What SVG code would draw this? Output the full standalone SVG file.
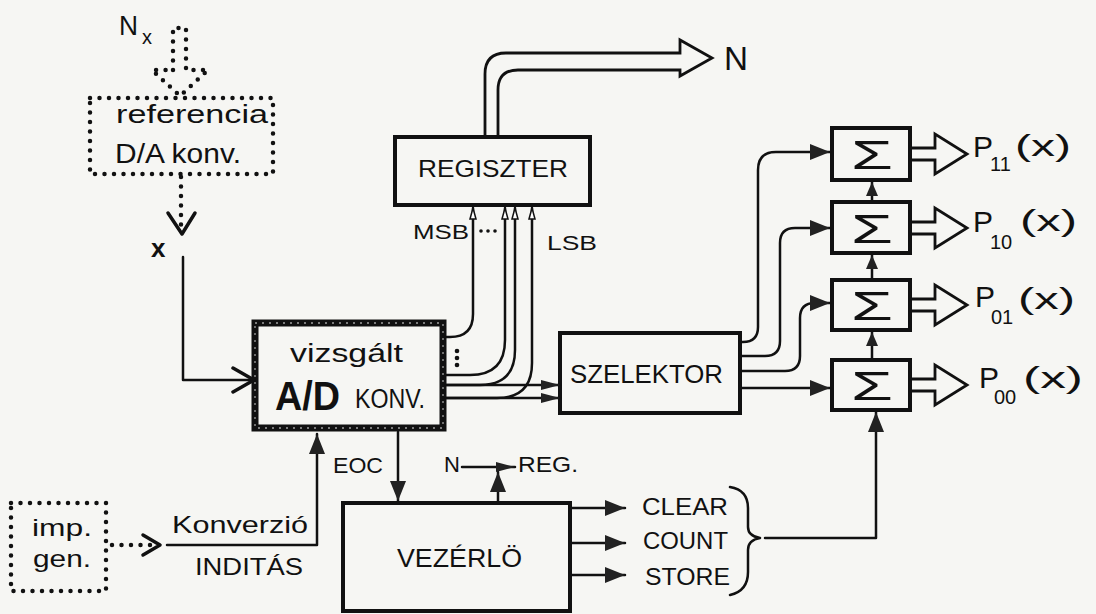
<svg xmlns="http://www.w3.org/2000/svg" width="1096" height="614" viewBox="0 0 1096 614">
<style>
text{font-family:"Liberation Sans","DejaVu Sans",sans-serif;fill:#111;}
.box{fill:none;stroke:#111;stroke-width:4;}
.ln{fill:none;stroke:#111;stroke-width:2.5;stroke-linecap:round;stroke-linejoin:round;}
.dot{fill:none;stroke:#111;stroke-width:4.5;stroke-linecap:round;stroke-dasharray:0 9.5;}
.bus{fill:none;stroke:#111;stroke-width:2.8;stroke-linejoin:miter;}
.open{fill:none;stroke:#111;stroke-width:3.5;stroke-linecap:round;stroke-linejoin:round;}
</style>
<defs>
<marker id="tri" markerUnits="userSpaceOnUse" markerWidth="22" markerHeight="18" refX="20" refY="9" orient="auto" viewBox="0 0 22 18">
<path d="M0,1 L20,9 L0,17 Z" fill="#222"/>
</marker>
<marker id="triS" markerUnits="userSpaceOnUse" markerWidth="20" markerHeight="12" refX="19" refY="6" orient="auto" viewBox="0 0 20 12">
<path d="M0,1 L19,6 L0,11 Z" fill="#222"/>
</marker>
<marker id="triU" markerUnits="userSpaceOnUse" markerWidth="16" markerHeight="14" refX="14" refY="7" orient="auto" viewBox="0 0 16 14">
<path d="M0,1 L14,7 L0,13 Z" fill="#222"/>
</marker>
<marker id="tiny" markerUnits="userSpaceOnUse" markerWidth="14" markerHeight="8" refX="12" refY="4" orient="auto" viewBox="0 0 14 8">
<path d="M1,1 L12,4 L1,7 Z" fill="#fff" stroke="#111" stroke-width="1.5"/>
</marker>
</defs>
<rect width="1096" height="614" fill="#f6f6f3"/>

<g id="nx-input">
<text x="119" y="35" font-size="28" textLength="19" lengthAdjust="spacingAndGlyphs">N</text>
<text x="142" y="44" font-size="20">x</text>
<path class="dot" d="M173,70 V28 H186 V70 H208 L180,96 L152,70 Z"/>
</g>

<g id="referencia">
<rect class="dot" x="90" y="98" width="183" height="76"/>
<text x="116" y="123" font-size="25" textLength="152" lengthAdjust="spacingAndGlyphs">referencia</text>
<text x="115" y="163" font-size="27" textLength="126" lengthAdjust="spacingAndGlyphs">D/A konv.</text>
</g>

<g id="x-label">
<text x="151" y="257" font-size="26" font-weight="bold">x</text>
</g>

<g id="ad-konv">
<rect x="255" y="323" width="188" height="105" fill="none" stroke="#111" stroke-width="7"/>
<rect x="255" y="323" width="188" height="105" fill="none" stroke="#fff" stroke-width="1.3" stroke-dasharray="2 5" opacity="0.6"/>
<text x="290" y="362" font-size="26" textLength="113" lengthAdjust="spacingAndGlyphs">vizsgált</text>
<text x="275" y="410" font-size="40" font-weight="bold" textLength="65" lengthAdjust="spacingAndGlyphs">A/D</text>
<text x="355" y="408" font-size="27" textLength="70" lengthAdjust="spacingAndGlyphs">KONV.</text>
<circle cx="457" cy="351" r="2.3" fill="#111"/>
<circle cx="457" cy="358" r="2.3" fill="#111"/>
<circle cx="457" cy="365" r="2.3" fill="#111"/>
</g>

<g id="regiszter">
<rect class="box" x="395" y="137" width="195" height="68"/>
<text x="418" y="177" font-size="24" textLength="150" lengthAdjust="spacingAndGlyphs">REGISZTER</text>
<text x="413" y="239" font-size="21" textLength="56" lengthAdjust="spacingAndGlyphs">MSB</text>
<text x="547" y="250" font-size="21" textLength="50" lengthAdjust="spacingAndGlyphs">LSB</text>
<circle cx="481" cy="231" r="1.8" fill="#111"/>
<circle cx="488" cy="231" r="1.8" fill="#111"/>
<circle cx="495" cy="231" r="1.8" fill="#111"/>
</g>

<g id="n-out">
<text x="724" y="70" font-size="34" textLength="24" lengthAdjust="spacingAndGlyphs">N</text>
</g>

<g id="szelektor">
<rect class="box" x="560" y="333" width="180" height="80"/>
<text x="570" y="383" font-size="25" textLength="153" lengthAdjust="spacingAndGlyphs">SZELEKTOR</text>
</g>

<g id="sum11">
<rect class="box" x="832" y="128" width="78" height="52"/>
<text x="851" y="169" font-size="40" textLength="42" lengthAdjust="spacingAndGlyphs">Σ</text>
<text x="973" y="157" font-size="30">P</text>
<text x="990" y="171" font-size="20">11</text>
<text x="1015" y="156" font-size="30" textLength="56" lengthAdjust="spacingAndGlyphs">(x)</text>
</g>
<g id="sum10">
<rect class="box" x="832" y="202" width="78" height="51"/>
<text x="851" y="243" font-size="40" textLength="42" lengthAdjust="spacingAndGlyphs">Σ</text>
<text x="973" y="232" font-size="30">P</text>
<text x="990" y="249" font-size="20">10</text>
<text x="1020" y="231" font-size="30" textLength="57" lengthAdjust="spacingAndGlyphs">(x)</text>
</g>
<g id="sum01">
<rect class="box" x="832" y="280" width="78" height="50"/>
<text x="851" y="320" font-size="40" textLength="42" lengthAdjust="spacingAndGlyphs">Σ</text>
<text x="975" y="307" font-size="30">P</text>
<text x="991" y="324" font-size="20">01</text>
<text x="1018" y="309" font-size="30" textLength="57" lengthAdjust="spacingAndGlyphs">(x)</text>
</g>
<g id="sum00">
<rect class="box" x="832" y="360" width="78" height="50"/>
<text x="851" y="400" font-size="40" textLength="42" lengthAdjust="spacingAndGlyphs">Σ</text>
<text x="979" y="388" font-size="30">P</text>
<text x="994" y="404" font-size="20">00</text>
<text x="1023" y="388" font-size="30" textLength="60" lengthAdjust="spacingAndGlyphs">(x)</text>
</g>

<g id="impgen">
<rect class="dot" x="11" y="503" width="95" height="88"/>
<text x="32" y="536" font-size="24" textLength="60" lengthAdjust="spacingAndGlyphs">imp.</text>
<text x="33" y="567" font-size="24" textLength="58" lengthAdjust="spacingAndGlyphs">gen.</text>
</g>

<g id="vezerlo">
<rect class="box" x="343" y="503" width="227" height="108"/>
<text x="397" y="567" font-size="26" textLength="125" lengthAdjust="spacingAndGlyphs">VEZÉRLÖ</text>
</g>

<g id="labels">
<text x="172" y="533" font-size="24" textLength="136" lengthAdjust="spacingAndGlyphs">Konverzió</text>
<text x="195" y="575" font-size="24" textLength="108" lengthAdjust="spacingAndGlyphs">INDITÁS</text>
<text x="333" y="473" font-size="22" textLength="50" lengthAdjust="spacingAndGlyphs">EOC</text>
<text x="444" y="472" font-size="22">N</text>
<text x="518" y="472" font-size="22" textLength="60" lengthAdjust="spacingAndGlyphs">REG.</text>
<text x="642" y="515" font-size="23" textLength="86" lengthAdjust="spacingAndGlyphs">CLEAR</text>
<text x="643" y="549" font-size="23" textLength="85" lengthAdjust="spacingAndGlyphs">COUNT</text>
<text x="645" y="585" font-size="23" textLength="85" lengthAdjust="spacingAndGlyphs">STORE</text>
</g>

<g id="connectors">
<path class="dot" d="M181,177 V228"/>
<path class="open" d="M168,213 L182,234 L195,213"/>
<path class="ln" d="M183,257 V380 H253"/>
<path class="open" d="M233,368 L254,380 L233,392"/>
<path class="bus" d="M485,137 V74 Q485,53 506,53 H680 V40 L712,58 L680,76 V70 H518 Q498,70 498,90 V137"/>
<path class="ln" d="M446,337 H450 Q473,337 473,314 V208" marker-end="url(#tiny)"/>
<path class="ln" d="M446,375 H470 Q505,375 505,340 V208" marker-end="url(#tiny)"/>
<path class="ln" d="M446,385 H480 Q515,385 515,350 V208" marker-end="url(#tiny)"/>
<path class="ln" d="M446,398 H497 Q532,398 532,363 V208" marker-end="url(#tiny)"/>
<path class="ln" d="M446,385 H560" marker-end="url(#triS)"/>
<path class="ln" d="M446,398 H560" marker-end="url(#triS)"/>
<path class="ln" d="M742,342 H743 Q758,342 758,327 V170 Q758,152 776,152 H830" marker-end="url(#tri)"/>
<path class="ln" d="M742,356 H765 Q780,356 780,341 V243 Q780,228 795,228 H830" marker-end="url(#tri)"/>
<path class="ln" d="M742,371 H785 Q800,371 800,356 V318 Q800,303 815,303 H830" marker-end="url(#tri)"/>
<path class="ln" d="M742,388 H830" marker-end="url(#tri)"/>
<path class="ln" d="M872,200 V182" marker-end="url(#triU)"/>
<path class="ln" d="M872,278 V255" marker-end="url(#triU)"/>
<path class="ln" d="M872,358 V332" marker-end="url(#triU)"/>
<path class="bus" d="M912,148 H935 V134 L967,154 L935,174 V160 H912"/>
<path class="bus" d="M912,222 H935 V208 L967,228 L935,248 V234 H912"/>
<path class="bus" d="M912,299 H935 V285 L967,305 L935,325 V311 H912"/>
<path class="bus" d="M912,379 H935 V365 L967,385 L935,405 V391 H912"/>
<path class="dot" d="M112,545 H152"/>
<path class="open" d="M143,535 L160,545 L143,555"/>
<path class="ln" d="M167,545 H317 V434" marker-end="url(#tri)"/>
<path class="ln" d="M398,432 V501" marker-end="url(#tri)"/>
<path class="ln" d="M498,501 V472" marker-end="url(#tri)"/>
<path class="ln" d="M462,467 H515" marker-end="url(#triS)"/>
<path class="ln" d="M572,508 H625" marker-end="url(#tri)"/>
<path class="ln" d="M572,543 H625" marker-end="url(#tri)"/>
<path class="ln" d="M572,575 H625" marker-end="url(#tri)"/>
<path class="ln" d="M730,487 Q748,490 748,508 V527 Q748,536 760,538 Q748,540 748,550 V572 Q748,591 730,595"/>
<path class="ln" d="M765,538 H876 V412" marker-end="url(#tri)"/>
</g>
</svg>
